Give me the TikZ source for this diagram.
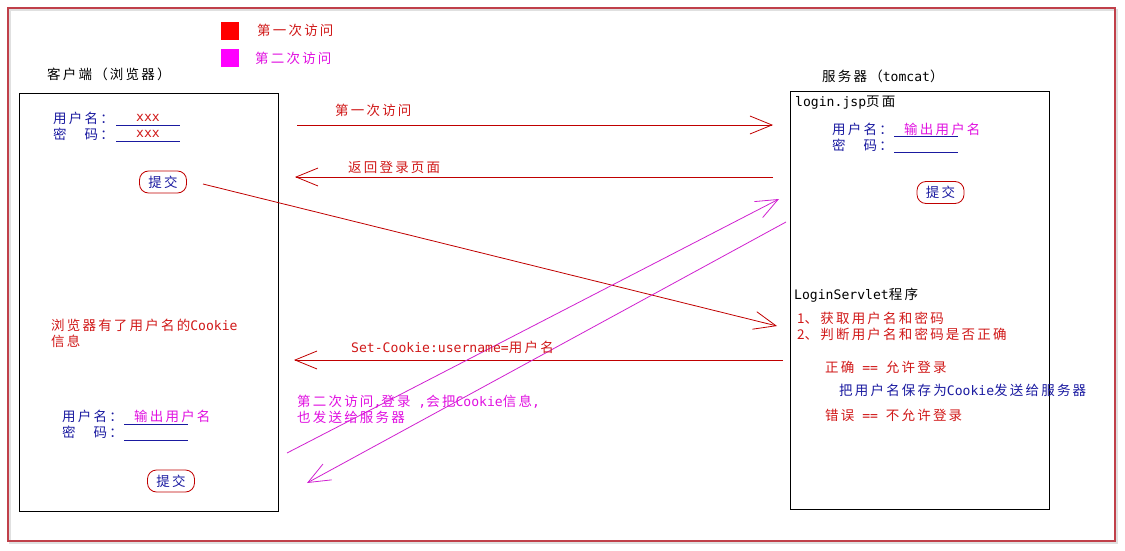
\documentclass[tikz,border=0pt]{standalone}
\usepackage{fontspec}
\setmainfont{Noto Sans CJK SC}
\newfontfamily\latfont{DejaVu Sans Mono}[Scale=0.97]
\newcommand{\lat}[1]{{\latfont #1}}
\newcount\cjkcnt
\newcommand{\setcjkclass}[2]{%
  \cjkcnt=#1\relax
  \loop \XeTeXcharclass\cjkcnt=7 \advance\cjkcnt by 1 \ifnum\cjkcnt<#2 \repeat}
\setcjkclass{"4E00}{"A000}
\setcjkclass{"3000}{"3040}
\setcjkclass{"FF01}{"FF60}
\XeTeXinterchartokenstate=1
\XeTeXinterchartoks 7 7 = {\kern2.2pt}
\usetikzlibrary{arrows.meta}
\definecolor{fr}{HTML}{C0404A}
\definecolor{tr}{HTML}{D01818}
\definecolor{tb}{HTML}{1A1AA0}
\definecolor{tm}{HTML}{E010E0}
\definecolor{lr}{HTML}{C00000}
\definecolor{lm}{HTML}{D020D0}
\definecolor{sqr}{HTML}{FF0000}
\definecolor{sqm}{HTML}{FF00FF}
\begin{document}
\begin{tikzpicture}[x=1pt,y=-1pt,
  font=\fontsize{13.5}{16}\selectfont,
  txt/.style={anchor=west,inner sep=0pt},
  txtb/.style={anchor=north west,inner sep=0pt,align=left},
  arr/.style={-{Straight Barb[length=22pt,width=18pt]},line width=0.8pt},
  btn/.style={draw=lr,line width=0.8pt,rounded corners=9pt,text=tb,minimum width=47pt,minimum height=22pt,inner sep=0pt},
  pagebox/.style={draw,line width=0.8pt,anchor=north west,minimum width=259pt,minimum height=418pt,inner sep=0pt},
  field/.style={tb,line width=0.8pt}]
\useasboundingbox (0,0) rectangle (1125,551);
% outer frame with shadow
\draw[black!12,line width=2pt] (10,10) rectangle (1117,543);
\draw[fr,line width=1.2pt] (8,8) rectangle (1115,541);
% legend
\node[fill=sqr,minimum size=18pt,inner sep=0pt,anchor=north west] (lg1) at (221,22) {};
\node[fill=sqm,minimum size=18pt,inner sep=0pt,anchor=north west] (lg2) at (221,49) {};
\node[txt,text=tr] (lg1t) at (257,30) {第一次访问};
\node[txt,text=tm] (lg2t) at (255,58) {第二次访问};
% titles
\node[txt] (clientlbl) at (47,74) {客户端（浏览器）};
\node[txt] (serverlbl) at (822,76) {服务器（\lat{tomcat}）};
% boxes
\node[pagebox] (client) at (19,93) {};
\node[pagebox] (server) at (790,91) {};
% client upper form
\node[txt,text=tb] (cu1) at (53,118) {用户名：};
\node[txt,text=tb] (cp1) at (53,134) {密　码：};
\draw[field] (116,125) -- (180,125);
\draw[field] (116,141) -- (180,141);
\node[text=tr,inner sep=0pt] (x1) at (148,118) {\lat{xxx}};
\node[text=tr,inner sep=0pt] (x2) at (148,134) {\lat{xxx}};
\node[btn] (btn1) at (163,182) {提交};
% server login.jsp
\node[txt] (jsp) at (795,103) {\lat{login.jsp}页面};
\node[txt,text=tb] (su) at (832,129) {用户名：};
\node[txt,text=tb] (sp) at (832,145) {密　码：};
\draw[field] (894,136) -- (958,136);
\draw[field] (894,152) -- (958,152);
\node[txt,text=tm] (sout) at (904,129) {输出用户名};
\node[btn] (btn2) at (940.5,192.5) {提交};
% servlet
\node[txt] (servlet) at (794,295) {\lat{LoginServlet}程序};
\node[txtb,text=tr] (steps) at (797,312) {1、获取用户名和密码\\2、判断用户名和密码是否正确};
\node[txt,text=tr] (ok) at (825,367) {正确\lat{ == }允许登录};
\node[txt,text=tb] (save) at (839,390) {把用户名保存为\lat{Cookie}发送给服务器};
\node[txt,text=tr] (err) at (825,415) {错误\lat{ == }不允许登录};
% client lower
\node[txtb,text=tr] (cinfo) at (51,319) {浏览器有了用户名的\lat{Cookie}\\信息};
\node[txt,text=tb] (cu2) at (62,416) {用户名：};
\node[txt,text=tb] (cp2) at (62,432) {密　码：};
\draw[field] (124,424) -- (188,424);
\draw[field] (124,440) -- (188,440);
\node[txt,text=tm] (cout) at (134,416) {输出用户名};
\node[btn] (btn3) at (171,481) {提交};
% arrows
\coordinate (a1s) at (297,125); \coordinate (a1e) at (773,125);
\coordinate (a2s) at (773,177); \coordinate (a2e) at (295,177);
\coordinate (a3s) at (203,184); \coordinate (a3e) at (777,326);
\coordinate (a4s) at (783,360); \coordinate (a4e) at (294,360);
\coordinate (a5s) at (287,453); \coordinate (a5e) at (779,199);
\coordinate (a6s) at (786,222); \coordinate (a6e) at (307,483);
\draw[arr,lr] (a1s) -- (a1e);
\draw[arr,lr] (a2s) -- (a2e);
\draw[arr,lr] (a3s) -- (a3e);
\draw[arr,lr] (a4s) -- (a4e);
\draw[arr,lm] (a5s) -- (a5e);
\draw[arr,lm] (a6s) -- (a6e);
\node[txt,text=tr] (l1) at (335,110) {第一次访问};
\node[txt,text=tr] (l2) at (348,167) {返回登录页面};
\node[txt,text=tr] (l4) at (351,347) {\lat{Set-Cookie:username=}用户名};
\node[txtb,text=tm] (l5) at (297,395) {第二次访问\lat{,}登录\lat{ ,}会把\lat{Cookie}信息\lat{,}\\也发送给服务器};
\end{tikzpicture}
\end{document}
